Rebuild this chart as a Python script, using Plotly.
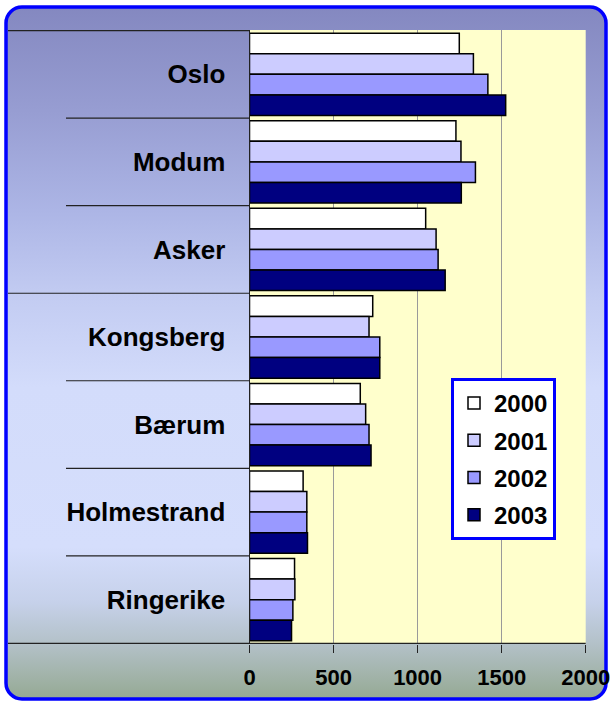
import base64
import plotly.graph_objects as go

cities = ["Oslo", "Modum", "Asker", "Kongsberg", "Bærum", "Holmestrand", "Ringerike"]
years = ["2000", "2001", "2002", "2003"]
v2000 = [1248, 1228, 1048, 733, 659, 319, 268]
v2001 = [1332, 1258, 1110, 711, 691, 341, 270]
v2002 = [1418, 1344, 1122, 775, 711, 341, 258]
v2003 = [1524, 1260, 1164, 775, 723, 345, 250]
series = [v2000, v2001, v2002, v2003]
colors = ["#ffffff", "#ccccff", "#9999ff", "#000080"]

W, H = 610, 702
xdom = [249.5 / W, 585.7 / W]
ydom = [1 - 644 / H, 1 - 30 / H]
font = "Arial, Liberation Sans, sans-serif"

fig = go.Figure()
for yr, vals, c in zip(years, series, colors):
    fig.add_trace(go.Bar(
        y=cities, x=vals, name=yr, orientation="h", legendgroup=yr,
        marker=dict(color=c, line=dict(color="#000000", width=1.5)),
    ))

# chart-area gradient with rounded blue frame
stops = [(0, "#8488c0"), (0.15, "#979dd2"), (0.3, "#adb6e6"), (0.42, "#c3ccf2"),
         (0.55, "#d3dcfb"), (0.78, "#d5defc"), (0.86, "#c6d1ea"), (0.92, "#b3c1c8"),
         (1, "#95a993")]
stop_xml = "".join(f'<stop offset="{o}" stop-color="{c}"/>' for o, c in stops)
svg = (f'<svg xmlns="http://www.w3.org/2000/svg" width="{W}" height="{H}" viewBox="0 0 {W} {H}">'
       f'<defs><linearGradient id="g" x1="0" y1="0" x2="0" y2="1">{stop_xml}</linearGradient></defs>'
       f'<rect x="6" y="7" width="600" height="692" rx="16" ry="16" fill="url(#g)" '
       f'stroke="#0000ff" stroke-width="3.5"/></svg>')
src = "data:image/svg+xml;base64," + base64.b64encode(svg.encode()).decode()

shapes = [dict(type="rect", xref="x domain", yref="y domain", x0=0, x1=1, y0=0, y1=1,
               fillcolor="#ffffcc", line=dict(width=0), layer="below")]
for i in range(len(cities) + 1):
    b = i - 0.5
    long = i in (0, 3, len(cities))
    x0 = 8 / W if long else 66 / W
    x1 = xdom[1] if i == len(cities) else xdom[0]
    shapes.append(dict(type="line", xref="paper", yref="y", x0=x0, x1=x1, y0=b, y1=b,
                       line=dict(color="#222222", width=1.2)))

fig.update_layout(
    width=W, height=H, autosize=False,
    margin=dict(l=0, r=0, t=0, b=0, pad=0, autoexpand=False),
    paper_bgcolor="#ffffff", plot_bgcolor="rgba(0,0,0,0)",
    barmode="group", bargap=0.06, bargroupgap=0,
    images=[dict(source=src, xref="paper", yref="paper", x=0, y=1, sizex=1, sizey=1,
                 xanchor="left", yanchor="top", sizing="stretch", layer="below")],
    shapes=shapes,
    legend=dict(x=451 / W, y=1 - 378 / H, xanchor="left", yanchor="top",
                bgcolor="#ffffff", bordercolor="#0000ff", borderwidth=3,
                font=dict(family=font, size=24, color="#000000", weight="bold"),
                traceorder="grouped", tracegroupgap=3),
    showlegend=True,
)
fig.update_xaxes(domain=xdom, range=[0, 2000], dtick=500, showgrid=True, automargin=False,
                 gridcolor="#9a9a9a", gridwidth=1, zeroline=False, showline=False,
                 ticks="outside", ticklen=8, tickcolor="#222222", ticklabelstandoff=6,
                 ticklabeloverflow="allow",
                 tickfont=dict(family=font, size=22, color="#000000", weight="bold"))
fig.update_yaxes(domain=ydom, type="category", categoryorder="array", categoryarray=cities,
                 autorange="reversed", showgrid=False, ticks="", showline=True, automargin=False,
                 linecolor="#222222", linewidth=1, ticklabelstandoff=18,
                 tickfont=dict(family=font, size=26, color="#000000", weight="bold"))

fig.write_html("out.html", config={"displayModeBar": False, "responsive": False},
               post_script="document.body.style.margin='0';document.body.style.overflow='hidden';")
